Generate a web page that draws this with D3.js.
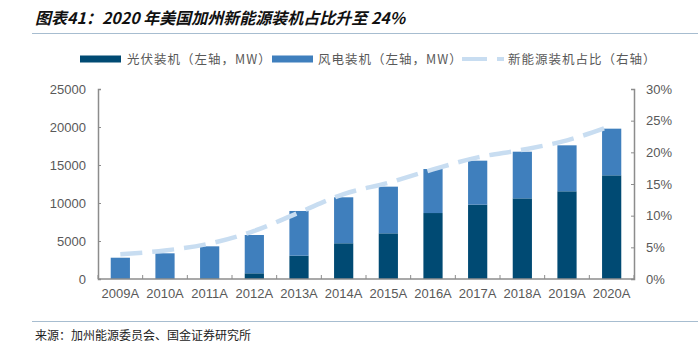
<!DOCTYPE html>
<html>
<head>
<meta charset="utf-8">
<script src="https://cdn.jsdelivr.net/npm/d3@7"></script>
<style>
  body { margin: 0; background: #fff; }
  svg text { font-family: "Liberation Sans", Arial, "Noto Sans CJK SC", sans-serif; }
  .cjk { font-family: "Noto Sans CJK SC", sans-serif; }
</style>
</head>
<body>
<svg></svg>
<script>
var width = 698;
var height = 347;

// 加州装机数据
var years = ["2009A", "2010A", "2011A", "2012A", "2013A", "2014A", "2015A", "2016A", "2017A", "2018A", "2019A", "2020A"];
var solar = [0, 0, 100, 750, 3070, 4700, 6010, 8680, 9780, 10610, 11540, 13640];
var wind = [2800, 3380, 4200, 5040, 5880, 6050, 6140, 5790, 5790, 6140, 6050, 6140];
var share = [3.9, 4.5, 5.6, 7.6, 10.5, 13.4, 15.2, 17.3, 19.2, 20.4, 21.9, 24.2];
var leftTicks = [0, 5000, 10000, 15000, 20000, 25000];
var rightTicks = [0, 5, 10, 15, 20, 25, 30];

var solarColor = "#004a73";
var windColor = "#3f7fbd";
var lineColor = "#c8ddf1";
var axisColor = "#8c8c8c";
var textColor = "#595959";

var svg = d3.select("svg")
    .attr("width", width)
    .attr("height", height);

// 标题与上下分隔线
svg.append("text")
    .attr("class", "cjk")
    .attr("x", 35)
    .attr("y", 24)
    .style("font-size", "16px")
    .style("font-weight", "bold")
    .style("font-style", "italic")
    .attr("fill", "#111")
    .text("图表41：2020 年美国加州新能源装机占比升至 24%");

svg.append("line")
    .attr("x1", 32).attr("x2", width)
    .attr("y1", 33.5).attr("y2", 33.5)
    .attr("stroke", "#a7bdd0").attr("stroke-width", 1);

svg.append("line")
    .attr("x1", 32).attr("x2", width)
    .attr("y1", 321.5).attr("y2", 321.5)
    .attr("stroke", "#a7bdd0").attr("stroke-width", 1);

svg.append("text")
    .attr("class", "cjk")
    .attr("x", 35)
    .attr("y", 340)
    .style("font-size", "12px")
    .attr("fill", "#222")
    .text("来源：加州能源委员会、国金证券研究所");

var pLeft = 98, pRight = 634, pTop = 89, pBottom = 279;

var x = d3.scaleBand()
    .domain(years)
    .range([pLeft, pRight])
    .paddingInner(0.57)
    .paddingOuter(0.285);

var y = d3.scaleLinear().domain([0, 25000]).range([pBottom, pTop]);
var y2 = d3.scaleLinear().domain([0, 30]).range([pBottom, pTop]);

// 堆叠柱
var rows = years.map((d, i) => ({ year: d, solar: solar[i], wind: wind[i] }));
var stack = d3.stack().keys(["solar", "wind"])(rows);
var colors = { solar: solarColor, wind: windColor };

svg.append("g")
    .selectAll("g")
    .data(stack)
    .join("g")
        .attr("fill", d => colors[d.key])
    .selectAll("rect")
    .data(d => d)
    .join("rect")
        .attr("x", d => x(d.data.year))
        .attr("width", x.bandwidth())
        .attr("y", d => y(d[1]))
        .attr("height", d => y(d[0]) - y(d[1]));

// 坐标轴
var gx = svg.append("g")
    .attr("transform", `translate(0, ${pBottom})`);
gx.append("line")
    .attr("x1", pLeft).attr("x2", pRight)
    .attr("stroke", axisColor).attr("stroke-width", 1.5);
gx.selectAll(".tk")
    .data(d3.range(years.length + 1))
    .join("line")
        .attr("class", "tk")
        .attr("x1", i => pLeft + i * (pRight - pLeft) / years.length)
        .attr("x2", i => pLeft + i * (pRight - pLeft) / years.length)
        .attr("y1", 0).attr("y2", -4)
        .attr("stroke", axisColor);
gx.selectAll("text")
    .data(years)
    .join("text")
        .attr("x", d => x(d) + x.bandwidth() / 2)
        .attr("y", 19)
        .attr("text-anchor", "middle")
        .attr("fill", textColor)
        .style("font-size", "13px")
        .text(d => d);

var gy = svg.append("g")
    .attr("transform", `translate(${pLeft}, 0)`)
    .call(d3.axisLeft(y).tickValues(leftTicks).tickSize(-3).tickPadding(12)
        .tickFormat(d => d));
var gy2 = svg.append("g")
    .attr("transform", `translate(${pRight}, 0)`)
    .call(d3.axisRight(y2).tickValues(rightTicks).tickSize(-3).tickPadding(12)
        .tickFormat(d => d + "%"));

[gy, gy2].forEach(g => {
    g.select(".domain").attr("stroke", axisColor).attr("stroke-width", 1.5);
    g.selectAll(".tick line").attr("stroke", axisColor);
    g.selectAll(".tick text")
        .attr("fill", textColor)
        .style("font-size", "13px")
        .style("font-family", "Liberation Sans, Arial, sans-serif");
});

// 占比虚线
var line = d3.line()
    .x((d, i) => x(years[i]) + x.bandwidth() / 2)
    .y(d => y2(d))
    .curve(d3.curveMonotoneX);

svg.append("path")
    .datum(share)
    .attr("fill", "none")
    .attr("stroke", lineColor)
    .attr("stroke-width", 4.5)
    .attr("stroke-dasharray", "22,10")
    .attr("d", line);

// 图例
var legend = svg.append("g").attr("transform", "translate(0, 59)");
legend.append("rect").attr("x", 80).attr("y", -3.5).attr("width", 41).attr("height", 7).attr("fill", solarColor);
legend.append("rect").attr("x", 272).attr("y", -3.5).attr("width", 41).attr("height", 7).attr("fill", windColor);
legend.append("line")
    .attr("x1", 462).attr("x2", 504)
    .attr("stroke", lineColor).attr("stroke-width", 4)
    .attr("stroke-dasharray", "25,10");

var legendItems = [
    { x: 127, label: "光伏装机（左轴，MW）" },
    { x: 318, label: "风电装机（左轴，MW）" },
    { x: 508, label: "新能源装机占比（右轴）" }
];
legend.selectAll("text.lg")
    .data(legendItems)
    .join("text")
        .attr("class", "lg cjk")
        .attr("x", d => d.x)
        .attr("y", 4.5)
        .attr("fill", textColor)
        .style("font-size", "12.5px")
        .style("letter-spacing", "1px")
        .text(d => d.label);
</script>
</body>
</html>
